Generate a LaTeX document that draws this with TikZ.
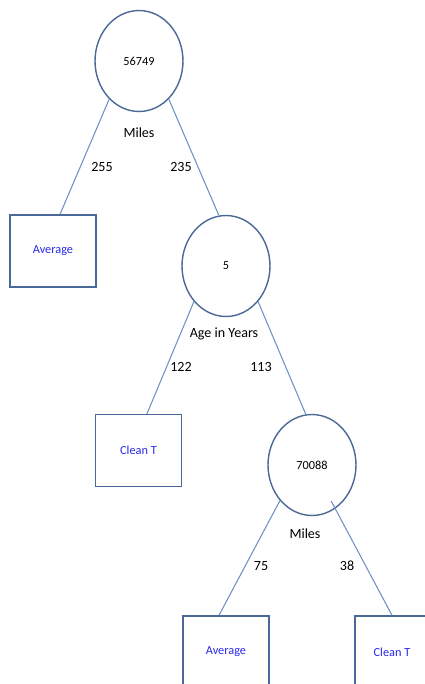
\documentclass[tikz,border=0pt]{standalone}
\usepackage{fontspec}
\setmainfont{Carlito}
\usetikzlibrary{shapes.geometric, positioning}
\definecolor{branch}{RGB}{110,145,195}
\definecolor{rim}{RGB}{75,105,150}
\definecolor{leaftext}{RGB}{40,40,235}

\begin{document}
\begin{tikzpicture}[x=0.02cm, y=-0.02cm,
    split/.style={ellipse, draw=rim, line width=0.8pt, fill=white, minimum width=1.76cm, minimum height=2.02cm, inner sep=0pt, font=\fontsize{7}{8}\selectfont},
    leaf/.style={rectangle, draw=rim, line width=0.8pt, minimum width=1.72cm, minimum height=1.44cm, inner sep=0pt, text=leaftext, font=\fontsize{7}{8}\selectfont},
    attr/.style={font=\fontsize{8}{9.6}\selectfont, inner sep=0pt},
    every edge/.style={draw=branch, line width=0.6pt}
    ]
    \useasboundingbox (0,0) rectangle (425,684);
    \clip (0,0) rectangle (425,684);

    % split nodes
    \node[split] (miles1) at (139,61) {56749};
    \node[split] (age) at (226,266) {5};
    \node[split] (miles2) at (312,465) {70088};

    % leaves
    \node[leaf] (avg1) at (53,251) {Average};
    \node[leaf] (clean1) at (138.5,450.5) {Clean T};
    \node[leaf] (avg2) at (226,652) {Average};
    \node[leaf, minimum width=1.48cm] (clean2) at (392,652) {Clean T};

    % attribute names
    \node[attr] (miles1label) at (139,133) {Miles};
    \node[attr] (agelabel) at (224,334) {Age in Years};
    \node[attr] (miles2label) at (305,534) {Miles};

    % counts on the branches
    \foreach \cnt/\px/\py in {255/102/167, 235/181/167, 122/181/367, 113/261/367, 75/261/566, 38/347/566}
        \node[attr] (n\cnt) at (\px,\py) {\cnt};

    \path
    (miles1.232) edge ([xshift=4pt]avg1.north)
    (miles1.308) edge (age.98)
    (age.228) edge ([xshift=4.8pt]clean1.north)
    (age.312) edge (miles2.97)
    (miles2.228) edge ([xshift=-4pt]avg2.north)
    (miles2.center) edge[shorten <=0.82cm] (clean2.north)
    ;

\end{tikzpicture}
\end{document}
